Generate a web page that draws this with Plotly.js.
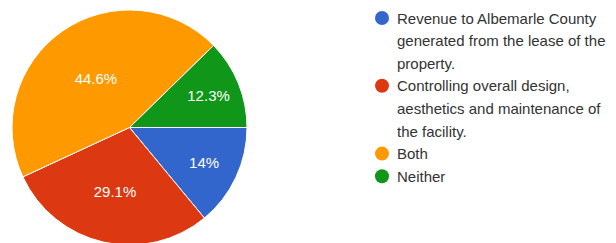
<!DOCTYPE html>
<html>
<head>
<meta charset="utf-8">
<script src="https://cdn.plot.ly/plotly-3.0.1.min.js"></script>
<style>
html,body{margin:0;padding:0;overflow:hidden;background:#fff;}
#chart{width:616px;height:245px;}
</style>
</head>
<body>
<div id="chart"></div>
<script>
var labels = [
  "Revenue to Albemarle County generated from the lease of the property.",
  "Controlling overall design, aesthetics and maintenance of the facility.",
  "Both",
  "Neither"
];
var legendLines = [
  ["Revenue to Albemarle County", "generated from the lease of the", "property."],
  ["Controlling overall design,", "aesthetics and maintenance of", "the facility."],
  ["Both"],
  ["Neither"]
];
var values = [14, 29.1, 44.6, 12.3];
var colors = ["#3366cc", "#dc3912", "#ff9900", "#109618"];

var W = 616, H = 245;
var trace = {
  type: "pie",
  labels: labels,
  values: values,
  sort: false,
  direction: "clockwise",
  rotation: 90,
  marker: {colors: colors, line: {color: "#ffffff", width: 1}},
  textinfo: "percent",
  textposition: "inside",
  insidetextorientation: "horizontal",
  textfont: {family: "Liberation Sans, Arial, sans-serif", size: 15, color: "#ffffff"},
  hoverinfo: "label+percent",
  domain: {x: [11 / W, 248 / W], y: [0, 235 / H]},
  showlegend: false
};

var annotations = [];
var shapes = [];
var lineStep = 22.6, top0 = 18, lineIdx = 0;
legendLines.forEach(function (lines, i) {
  var yc = top0 + lineIdx * lineStep;
  shapes.push({
    type: "circle", xref: "paper", yref: "paper",
    xsizemode: "pixel", ysizemode: "pixel",
    xanchor: 382 / W, yanchor: 1 - yc / H,
    x0: -7, x1: 7, y0: -7, y1: 7,
    fillcolor: colors[i], line: {width: 0}
  });
  lines.forEach(function (t) {
    var y = top0 + lineIdx * lineStep;
    annotations.push({
      xref: "paper", yref: "paper", x: 395 / W, y: 1 - y / H,
      xanchor: "left", yanchor: "middle", showarrow: false,
      text: t, font: {family: "Liberation Sans, Arial, sans-serif", size: 15, color: "#333333"}
    });
    lineIdx++;
  });
});

var layout = {
  width: W, height: H,
  margin: {l: 0, r: 0, t: 0, b: 0},
  paper_bgcolor: "#ffffff",
  showlegend: false,
  annotations: annotations,
  shapes: shapes
};
Plotly.newPlot("chart", [trace], layout, {displayModeBar: false, staticPlot: true});
</script>
</body>
</html>
